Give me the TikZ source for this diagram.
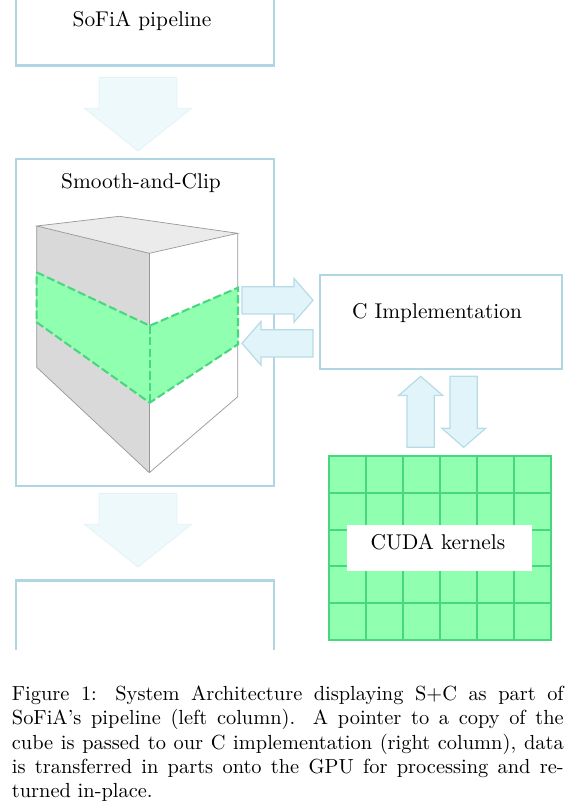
\documentclass[tikz,border=0pt]{standalone}
\usetikzlibrary{shapes.arrows}
\definecolor{boxblue}{HTML}{B0D6E3}
\definecolor{arrowline}{HTML}{B7DCE7}
\definecolor{arrowfill}{HTML}{E0F4FA}
\definecolor{palefill}{HTML}{EEF9FC}
\definecolor{paleline}{HTML}{E2F3F8}
\definecolor{gridline}{HTML}{46D77F}
\definecolor{gridfill}{HTML}{90FFB0}
\definecolor{faceside}{HTML}{D9D9D9}
\definecolor{facetop}{HTML}{EBEBEB}
\definecolor{cubeline}{HTML}{999999}
\tikzset{
  x=0.49pt, y=-0.49pt,
  panel/.style={draw=boxblue, line width=1pt, fill=white, inner sep=0pt, outer sep=0pt, minimum width=126pt},
  lbl/.style={inner sep=0pt, font=\fontsize{10.47}{13}\selectfont},
  bigarrow/.style={single arrow, draw=paleline, fill=palefill, line width=0.4pt, inner xsep=0pt, inner ysep=18.87pt, outer sep=0pt,
    minimum height=36.0pt, single arrow head extend=7.3pt, single arrow tip angle=103, single arrow head indent=0pt},
  smallarrow/.style={single arrow, draw=arrowline, fill=arrowfill, line width=0.6pt, inner xsep=0pt, inner ysep=6.37pt, outer sep=0pt,
    minimum height=34.8pt, single arrow head extend=4.1pt, single arrow tip angle=98, single arrow head indent=0pt},
  cubeedge/.style={draw=cubeline, line width=0.35pt},
  band/.style={draw=gridline, line width=1pt, dash pattern=on 4pt off 1.6pt},
}
\begin{document}
\begin{tikzpicture}
\useasboundingbox (0,0) rectangle (579,808);
\begin{scope}
\clip (0,0) rectangle (579,649);
\node[panel, minimum height=44.1pt] (pipeline) at (145,20.5) {};
\node[panel, minimum height=160pt] (smooth) at (145,322.3) {};
\node[panel, minimum height=44.1pt] (nextstage) at (145,625.5) {};
\end{scope}
\node[lbl] (pipelabel) at (142,21) {SoFiA pipeline};
\node[lbl] (smoothlabel) at (141,183) {Smooth-and-Clip};
\node[bigarrow, rotate=-90, anchor=tail] (flowa) at (138,77.5) {};
\node[bigarrow, rotate=-90, anchor=tail] (flowb) at (138,493.5) {};
% cube
\coordinate (tl) at (36.7,226);
\coordinate (tb) at (119.3,216.3);
\coordinate (tr) at (237.7,233.3);
\coordinate (tf) at (149.3,253.3);
\coordinate (bf) at (149.3,472.7);
\coordinate (bl) at (36.7,367.3);
\coordinate (br) at (237.7,396.7);
\fill[facetop] (tl)--(tb)--(tr)--(tf)--cycle;
\fill[faceside] (tl)--(tf)--(bf)--(bl)--cycle;
\fill[white] (tf)--(tr)--(br)--(bf)--cycle;
\draw[cubeedge] (tl)--(tb)--(tr)--(tf)--cycle;
\draw[cubeedge] (tl)--(bl)--(bf)--(br)--(tr);
\draw[cubeedge] (tf)--(bf);
\coordinate (ga) at (36.7,272.3);
\coordinate (gb) at (36.7,322.3);
\coordinate (gc) at (149.7,325.7);
\coordinate (gd) at (149.7,402.7);
\coordinate (ge) at (238,287.7);
\coordinate (gf) at (238,344.3);
\fill[gridfill] (ga)--(gc)--(ge)--(gf)--(gd)--(gb)--cycle;
\draw[band] (ga)--(gc)--(ge)--(gf)--(gd)--(gb)--cycle;
\draw[band] (gc)--(gd);
% right column
\node[panel, minimum width=118.6pt, minimum height=46.1pt] (cimpl) at (441,322) {};
\node[lbl] (clabel) at (437,313.5) {C Implementation};
\node[smallarrow, anchor=tail] (toc) at (242,300.3) {};
\node[smallarrow, rotate=180, anchor=tail] (fromc) at (313,343.3) {};
\node[smallarrow, rotate=90, anchor=tail] (togpu) at (420.7,447.3) {};
\node[smallarrow, rotate=-90, anchor=tail] (fromgpu) at (463.7,376.3) {};
% grid
\fill[gridfill] (329,456) rectangle (551,640);
\draw[gridline, line width=0.9pt] (329,456) rectangle (551,640);
\foreach \gx in {366,403,440,477,514} \draw[gridline, line width=0.9pt] (\gx,456) -- (\gx,640);
\foreach \gy in {492.8,529.6,566.4,603.2} \draw[gridline, line width=0.9pt] (329,\gy) -- (551,\gy);
\node[fill=white, inner sep=0pt, minimum width=90.7pt, minimum height=22.5pt] (cudabox) at (439.5,548) {};
\node[lbl] (cudalabel) at (438,542) {CUDA kernels};
% caption
\node[anchor=north west, inner sep=0pt, text width=270.4pt, align=justify, font=\fontsize{10}{12}\selectfont] (caption) at (11.5,685)
{Figure 1: System Architecture displaying S+C as part of SoFiA's pipeline (left column). A pointer to a copy of the cube is passed to our C implementation (right column), data is transferred in parts onto the GPU for processing and returned in-place.};
\end{tikzpicture}
\end{document}
